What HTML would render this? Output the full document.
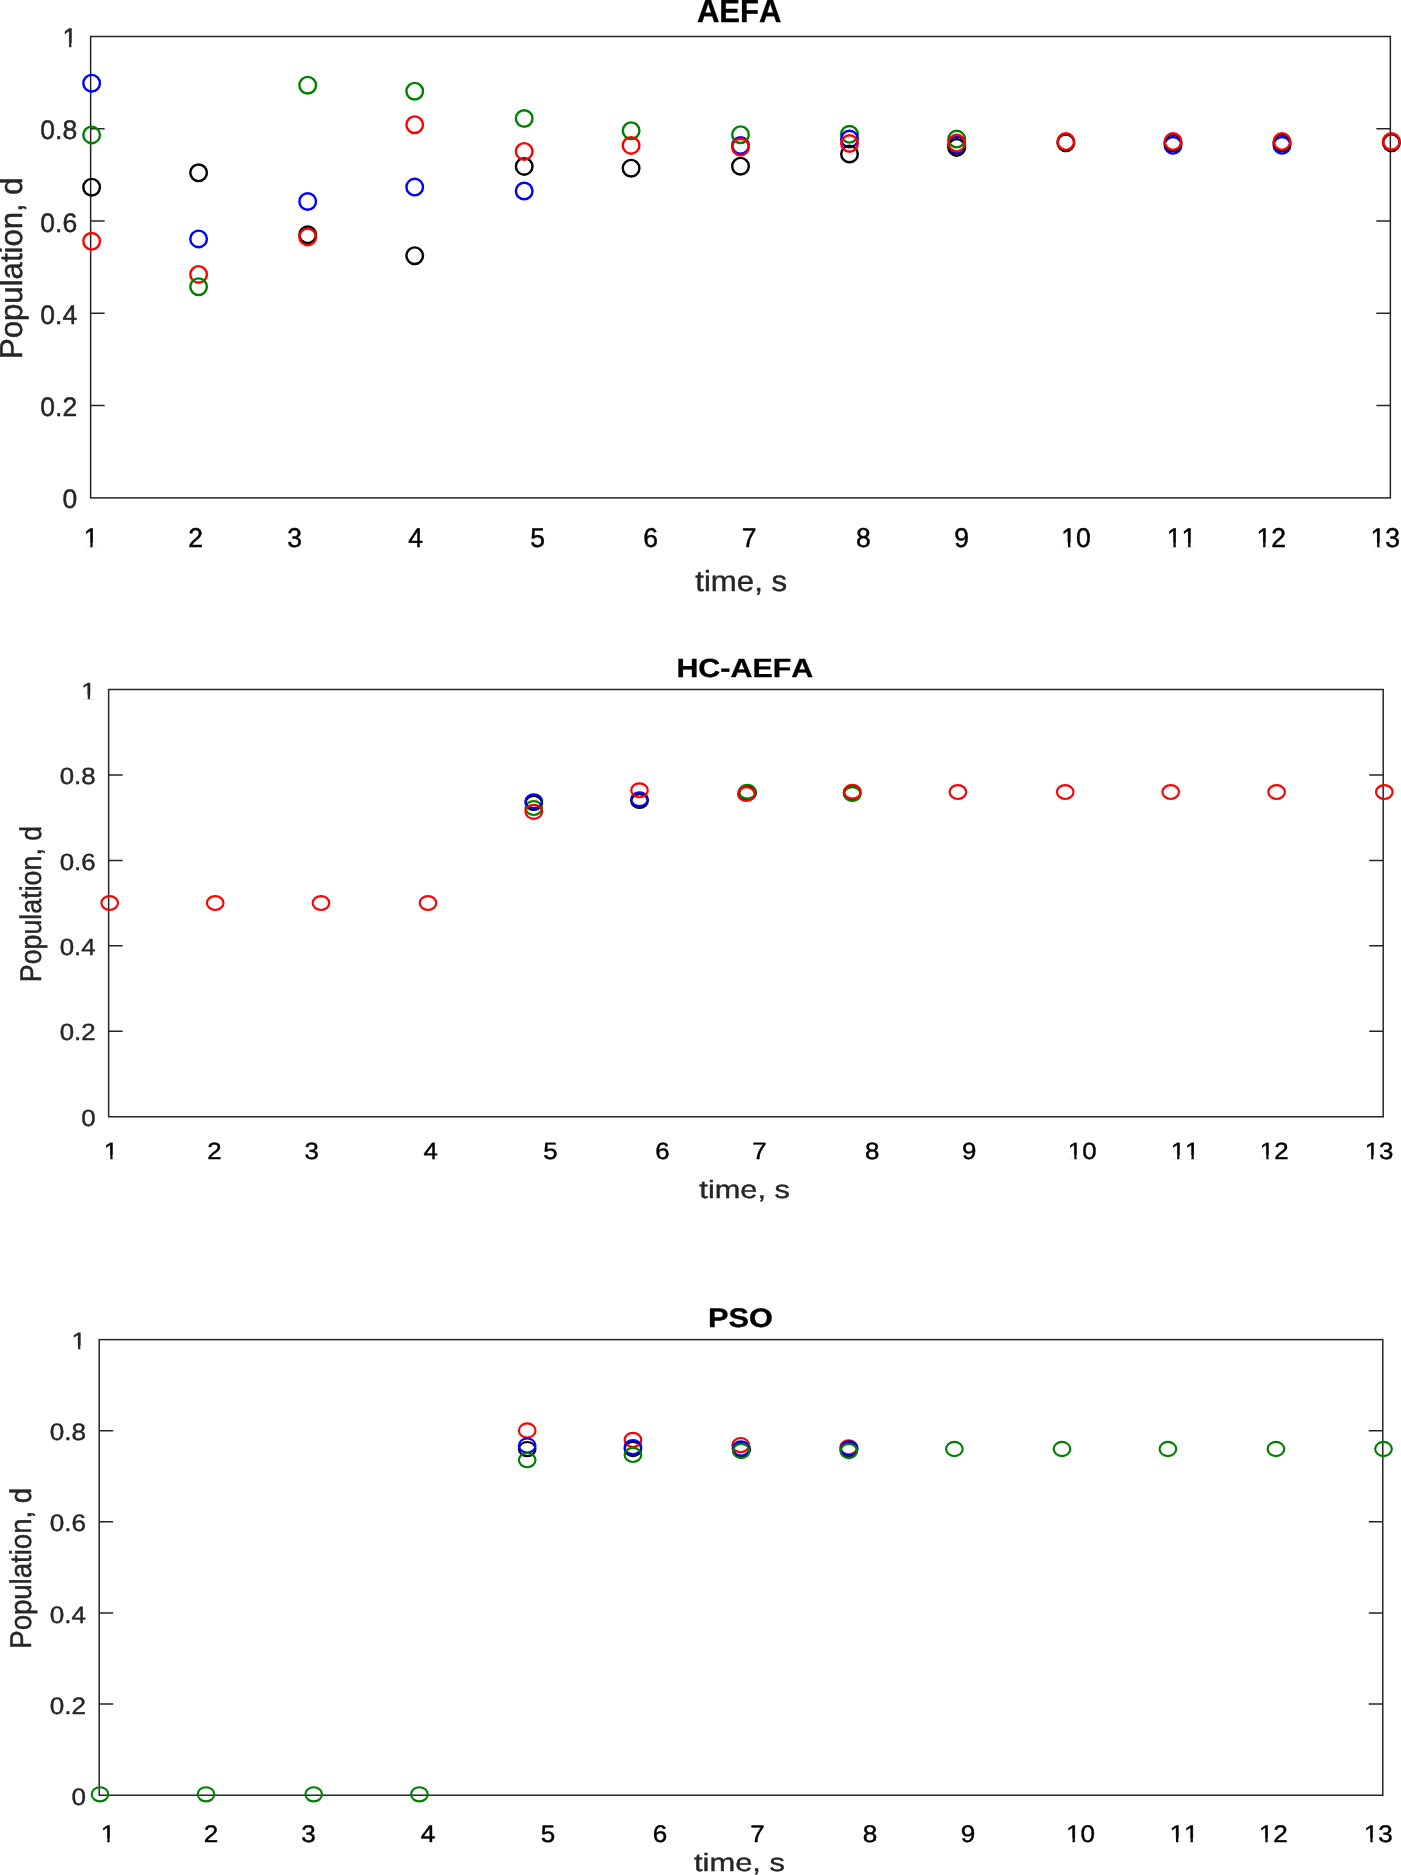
<!DOCTYPE html>
<html><head><meta charset="utf-8"><title>Population convergence</title>
<style>
html,body{margin:0;padding:0;background:#fff;}
body{width:1401px;height:1875px;overflow:hidden;}
svg{display:block;font-family:"Liberation Sans",sans-serif;will-change:transform;}
text{font-kerning:none;stroke-linejoin:round;text-rendering:geometricPrecision;}
</style></head><body>
<svg width="1401" height="1875" viewBox="0 0 1401 1875">
<rect width="1401" height="1875" fill="#fff"/>
<g id="p1">
<rect x="90.63" y="36.5" width="1299.7199999999998" height="461.4" fill="none" stroke="#262626" stroke-width="1.5"/>
<text transform="translate(77.14,47.00) scale(1.0000,1.0150)" font-size="26.5" text-anchor="end" fill="#262626" stroke="#262626" stroke-width="0.45" font-weight="normal">1</text><path transform="translate(77.14,47.00) scale(1.0000,1.0150)" d="M-13.68 -3.84H-8.07V1.06H-13.68ZM-5.73 -3.84H-0.30V1.06H-5.73Z" fill="#fff"/>
<path d="M90.63 128.78h14M1390.35 128.78h-14" stroke="#262626" stroke-width="1.5" fill="none"/>
<text transform="translate(77.14,139.28) scale(1.0000,1.0150)" font-size="26.5" text-anchor="end" fill="#262626" stroke="#262626" stroke-width="0.45" font-weight="normal">0.8</text>
<path d="M90.63 221.06h14M1390.35 221.06h-14" stroke="#262626" stroke-width="1.5" fill="none"/>
<text transform="translate(77.14,231.56) scale(1.0000,1.0150)" font-size="26.5" text-anchor="end" fill="#262626" stroke="#262626" stroke-width="0.45" font-weight="normal">0.6</text>
<path d="M90.63 313.34h14M1390.35 313.34h-14" stroke="#262626" stroke-width="1.5" fill="none"/>
<text transform="translate(77.14,323.84) scale(1.0000,1.0150)" font-size="26.5" text-anchor="end" fill="#262626" stroke="#262626" stroke-width="0.45" font-weight="normal">0.4</text>
<path d="M90.63 405.62h14M1390.35 405.62h-14" stroke="#262626" stroke-width="1.5" fill="none"/>
<text transform="translate(77.14,416.12) scale(1.0000,1.0150)" font-size="26.5" text-anchor="end" fill="#262626" stroke="#262626" stroke-width="0.45" font-weight="normal">0.2</text>
<text transform="translate(77.14,508.40) scale(1.0000,1.0150)" font-size="26.5" text-anchor="end" fill="#262626" stroke="#262626" stroke-width="0.45" font-weight="normal">0</text>
<text transform="translate(91.00,546.67) scale(1.0000,1.0220)" font-size="26.5" text-anchor="middle" fill="#000" stroke="#000" stroke-width="0.45" font-weight="normal">1</text><path transform="translate(91.00,546.67) scale(1.0000,1.0220)" d="M-6.31 -3.84H-0.70V1.06H-6.31ZM1.64 -3.84H7.07V1.06H1.64Z" fill="#fff"/>
<text transform="translate(195.50,546.67) scale(1.0000,1.0220)" font-size="26.5" text-anchor="middle" fill="#000" stroke="#000" stroke-width="0.45" font-weight="normal">2</text>
<text transform="translate(294.50,546.67) scale(1.0000,1.0220)" font-size="26.5" text-anchor="middle" fill="#000" stroke="#000" stroke-width="0.45" font-weight="normal">3</text>
<text transform="translate(415.60,546.67) scale(1.0000,1.0220)" font-size="26.5" text-anchor="middle" fill="#000" stroke="#000" stroke-width="0.45" font-weight="normal">4</text>
<text transform="translate(537.60,546.67) scale(1.0000,1.0220)" font-size="26.5" text-anchor="middle" fill="#000" stroke="#000" stroke-width="0.45" font-weight="normal">5</text>
<text transform="translate(650.60,546.67) scale(1.0000,1.0220)" font-size="26.5" text-anchor="middle" fill="#000" stroke="#000" stroke-width="0.45" font-weight="normal">6</text>
<text transform="translate(749.20,546.67) scale(1.0000,1.0220)" font-size="26.5" text-anchor="middle" fill="#000" stroke="#000" stroke-width="0.45" font-weight="normal">7</text>
<text transform="translate(863.30,546.67) scale(1.0000,1.0220)" font-size="26.5" text-anchor="middle" fill="#000" stroke="#000" stroke-width="0.45" font-weight="normal">8</text>
<text transform="translate(961.60,546.67) scale(1.0000,1.0220)" font-size="26.5" text-anchor="middle" fill="#000" stroke="#000" stroke-width="0.45" font-weight="normal">9</text>
<text transform="translate(1076.10,546.67) scale(1.0000,1.0220)" font-size="26.5" text-anchor="middle" fill="#000" stroke="#000" stroke-width="0.45" font-weight="normal">10</text><path transform="translate(1076.10,546.67) scale(1.0000,1.0220)" d="M-13.68 -3.84H-8.07V1.06H-13.68ZM-5.73 -3.84H-0.30V1.06H-5.73Z" fill="#fff"/>
<text transform="translate(1181.50,546.67) scale(1.0000,1.0220)" font-size="26.5" text-anchor="middle" fill="#000" stroke="#000" stroke-width="0.45" font-weight="normal">11</text><path transform="translate(1181.50,546.67) scale(1.0000,1.0220)" d="M-13.68 -3.84H-8.07V1.06H-13.68ZM-5.73 -3.84H-0.30V1.06H-5.73ZM1.06 -3.84H6.66V1.06H1.06ZM9.00 -3.84H14.44V1.06H9.00Z" fill="#fff"/>
<text transform="translate(1271.20,546.67) scale(1.0000,1.0220)" font-size="26.5" text-anchor="middle" fill="#000" stroke="#000" stroke-width="0.45" font-weight="normal">12</text><path transform="translate(1271.20,546.67) scale(1.0000,1.0220)" d="M-13.68 -3.84H-8.07V1.06H-13.68ZM-5.73 -3.84H-0.30V1.06H-5.73Z" fill="#fff"/>
<text transform="translate(1385.20,546.67) scale(1.0000,1.0220)" font-size="26.5" text-anchor="middle" fill="#000" stroke="#000" stroke-width="0.45" font-weight="normal">13</text><path transform="translate(1385.20,546.67) scale(1.0000,1.0220)" d="M-13.68 -3.84H-8.07V1.06H-13.68ZM-5.73 -3.84H-0.30V1.06H-5.73Z" fill="#fff"/>
<text transform="translate(739.20,21.72) scale(1.0000,1.0400)" font-size="31.09" text-anchor="middle" fill="#000" stroke="#000" stroke-width="0.35" font-weight="bold">AEFA</text>
<text transform="translate(741.15,590.80) scale(1.0000,0.9300)" font-size="31.2" text-anchor="middle" fill="#262626" stroke="#262626" stroke-width="0.45" font-weight="normal">time, s</text>
<text transform="translate(21.57,268.17) rotate(-90) scale(1.0000,1.0200)" font-size="31.13" text-anchor="middle" fill="#262626" stroke="#262626" stroke-width="0.45" font-weight="normal">Population, d</text>
<ellipse cx="91.63" cy="83.2" rx="8.3" ry="8.3" fill="none" stroke="#0000ff" stroke-width="2.4"/>
<ellipse cx="91.63" cy="134.9" rx="8.3" ry="8.3" fill="none" stroke="#008000" stroke-width="2.4"/>
<ellipse cx="91.63" cy="187.2" rx="8.3" ry="8.3" fill="none" stroke="#000000" stroke-width="2.4"/>
<ellipse cx="91.63" cy="241.3" rx="8.3" ry="8.3" fill="none" stroke="#ff0000" stroke-width="2.4"/>
<ellipse cx="198.6" cy="172.8" rx="8.3" ry="8.3" fill="none" stroke="#000000" stroke-width="2.4"/>
<ellipse cx="198.6" cy="238.9" rx="8.3" ry="8.3" fill="none" stroke="#0000ff" stroke-width="2.4"/>
<ellipse cx="198.6" cy="274.4" rx="8.3" ry="8.3" fill="none" stroke="#ff0000" stroke-width="2.4"/>
<ellipse cx="198.6" cy="286.7" rx="8.3" ry="8.3" fill="none" stroke="#008000" stroke-width="2.4"/>
<ellipse cx="307.7" cy="85.2" rx="8.3" ry="8.3" fill="none" stroke="#008000" stroke-width="2.4"/>
<ellipse cx="307.7" cy="201.5" rx="8.3" ry="8.3" fill="none" stroke="#0000ff" stroke-width="2.4"/>
<ellipse cx="307.7" cy="234.8" rx="8.3" ry="8.3" fill="none" stroke="#000000" stroke-width="2.4"/>
<ellipse cx="307.7" cy="236.9" rx="8.3" ry="8.3" fill="none" stroke="#ff0000" stroke-width="2.4"/>
<ellipse cx="414.7" cy="91.2" rx="8.3" ry="8.3" fill="none" stroke="#008000" stroke-width="2.4"/>
<ellipse cx="414.7" cy="124.7" rx="8.3" ry="8.3" fill="none" stroke="#ff0000" stroke-width="2.4"/>
<ellipse cx="414.7" cy="187.1" rx="8.3" ry="8.3" fill="none" stroke="#0000ff" stroke-width="2.4"/>
<ellipse cx="414.7" cy="255.7" rx="8.3" ry="8.3" fill="none" stroke="#000000" stroke-width="2.4"/>
<ellipse cx="524.2" cy="118.5" rx="8.3" ry="8.3" fill="none" stroke="#008000" stroke-width="2.4"/>
<ellipse cx="524.2" cy="191" rx="8.3" ry="8.3" fill="none" stroke="#0000ff" stroke-width="2.4"/>
<ellipse cx="524.2" cy="166.4" rx="8.3" ry="8.3" fill="none" stroke="#000000" stroke-width="2.4"/>
<ellipse cx="524.2" cy="151.4" rx="8.3" ry="8.3" fill="none" stroke="#ff0000" stroke-width="2.4"/>
<ellipse cx="631.1" cy="130.7" rx="8.3" ry="8.3" fill="none" stroke="#008000" stroke-width="2.4"/>
<ellipse cx="631.1" cy="168.2" rx="8.3" ry="8.3" fill="none" stroke="#000000" stroke-width="2.4"/>
<ellipse cx="631.1" cy="145.4" rx="8.3" ry="8.3" fill="none" stroke="#ff0000" stroke-width="2.4"/>
<ellipse cx="740.5" cy="145.4" rx="8.3" ry="8.3" fill="none" stroke="#0000ff" stroke-width="2.4"/>
<ellipse cx="740.5" cy="134.7" rx="8.3" ry="8.3" fill="none" stroke="#008000" stroke-width="2.4"/>
<ellipse cx="740.5" cy="166.2" rx="8.3" ry="8.3" fill="none" stroke="#000000" stroke-width="2.4"/>
<ellipse cx="740.5" cy="147.1" rx="8.3" ry="8.3" fill="none" stroke="#ff0000" stroke-width="2.4"/>
<ellipse cx="849.5" cy="134.3" rx="8.3" ry="8.3" fill="none" stroke="#008000" stroke-width="2.4"/>
<ellipse cx="849.5" cy="139" rx="8.3" ry="8.3" fill="none" stroke="#0000ff" stroke-width="2.4"/>
<ellipse cx="849.5" cy="154" rx="8.3" ry="8.3" fill="none" stroke="#000000" stroke-width="2.4"/>
<ellipse cx="849.5" cy="143.5" rx="8.3" ry="8.3" fill="none" stroke="#ff0000" stroke-width="2.4"/>
<ellipse cx="956.7" cy="145.0" rx="8.3" ry="8.3" fill="none" stroke="#0000ff" stroke-width="2.4"/>
<ellipse cx="956.7" cy="147.4" rx="8.3" ry="8.3" fill="none" stroke="#000000" stroke-width="2.4"/>
<ellipse cx="956.7" cy="139.1" rx="8.3" ry="8.3" fill="none" stroke="#008000" stroke-width="2.4"/>
<ellipse cx="956.7" cy="143.1" rx="8.3" ry="8.3" fill="none" stroke="#ff0000" stroke-width="2.4"/>
<ellipse cx="1065.85" cy="142.8" rx="8.3" ry="8.3" fill="none" stroke="#000000" stroke-width="2.4"/>
<ellipse cx="1065.85" cy="141.6" rx="8.3" ry="8.3" fill="none" stroke="#ff0000" stroke-width="2.4"/>
<ellipse cx="1173.0" cy="145.3" rx="8.3" ry="8.3" fill="none" stroke="#0000ff" stroke-width="2.4"/>
<ellipse cx="1173.0" cy="142.8" rx="8.3" ry="8.3" fill="none" stroke="#000000" stroke-width="2.4"/>
<ellipse cx="1173.0" cy="141.6" rx="8.3" ry="8.3" fill="none" stroke="#ff0000" stroke-width="2.4"/>
<ellipse cx="1282.0" cy="145.3" rx="8.3" ry="8.3" fill="none" stroke="#0000ff" stroke-width="2.4"/>
<ellipse cx="1282.0" cy="142.8" rx="8.3" ry="8.3" fill="none" stroke="#000000" stroke-width="2.4"/>
<ellipse cx="1282.0" cy="141.6" rx="8.3" ry="8.3" fill="none" stroke="#ff0000" stroke-width="2.4"/>
<ellipse cx="1391.4" cy="142.7" rx="8.3" ry="8.3" fill="none" stroke="#000000" stroke-width="2.4"/>
<ellipse cx="1391.4" cy="141.5" rx="8.3" ry="8.3" fill="none" stroke="#ff0000" stroke-width="2.4"/>
</g>
<g id="p2">
<rect x="108.63" y="689.5" width="1274.5700000000002" height="427.27" fill="none" stroke="#262626" stroke-width="1.5"/>
<text transform="translate(95.54,698.60) scale(1.0000,0.9070)" font-size="25.84" text-anchor="end" fill="#262626" stroke="#262626" stroke-width="0.45" font-weight="normal">1</text><path transform="translate(95.54,698.60) scale(1.0000,0.9070)" d="M-13.34 -3.75H-7.87V1.03H-13.34ZM-5.59 -3.75H-0.29V1.03H-5.59Z" fill="#fff"/>
<path d="M108.63 774.95h14M1383.2 774.95h-14" stroke="#262626" stroke-width="1.5" fill="none"/>
<text transform="translate(95.54,784.05) scale(1.0000,0.9070)" font-size="25.84" text-anchor="end" fill="#262626" stroke="#262626" stroke-width="0.45" font-weight="normal">0.8</text>
<path d="M108.63 860.41h14M1383.2 860.41h-14" stroke="#262626" stroke-width="1.5" fill="none"/>
<text transform="translate(95.54,869.51) scale(1.0000,0.9070)" font-size="25.84" text-anchor="end" fill="#262626" stroke="#262626" stroke-width="0.45" font-weight="normal">0.6</text>
<path d="M108.63 945.86h14M1383.2 945.86h-14" stroke="#262626" stroke-width="1.5" fill="none"/>
<text transform="translate(95.54,954.96) scale(1.0000,0.9070)" font-size="25.84" text-anchor="end" fill="#262626" stroke="#262626" stroke-width="0.45" font-weight="normal">0.4</text>
<path d="M108.63 1031.32h14M1383.2 1031.32h-14" stroke="#262626" stroke-width="1.5" fill="none"/>
<text transform="translate(95.54,1040.42) scale(1.0000,0.9070)" font-size="25.84" text-anchor="end" fill="#262626" stroke="#262626" stroke-width="0.45" font-weight="normal">0.2</text>
<text transform="translate(95.54,1125.87) scale(1.0000,0.9070)" font-size="25.84" text-anchor="end" fill="#262626" stroke="#262626" stroke-width="0.45" font-weight="normal">0</text>
<text transform="translate(111.00,1158.70) scale(1.0000,0.9090)" font-size="25.84" text-anchor="middle" fill="#000" stroke="#000" stroke-width="0.45" font-weight="normal">1</text><path transform="translate(111.00,1158.70) scale(1.0000,0.9090)" d="M-6.15 -3.75H-0.69V1.03H-6.15ZM1.59 -3.75H6.90V1.03H1.59Z" fill="#fff"/>
<text transform="translate(214.40,1158.70) scale(1.0000,0.9090)" font-size="25.84" text-anchor="middle" fill="#000" stroke="#000" stroke-width="0.45" font-weight="normal">2</text>
<text transform="translate(311.80,1158.70) scale(1.0000,0.9090)" font-size="25.84" text-anchor="middle" fill="#000" stroke="#000" stroke-width="0.45" font-weight="normal">3</text>
<text transform="translate(430.80,1158.70) scale(1.0000,0.9090)" font-size="25.84" text-anchor="middle" fill="#000" stroke="#000" stroke-width="0.45" font-weight="normal">4</text>
<text transform="translate(550.50,1158.70) scale(1.0000,0.9090)" font-size="25.84" text-anchor="middle" fill="#000" stroke="#000" stroke-width="0.45" font-weight="normal">5</text>
<text transform="translate(662.50,1158.70) scale(1.0000,0.9090)" font-size="25.84" text-anchor="middle" fill="#000" stroke="#000" stroke-width="0.45" font-weight="normal">6</text>
<text transform="translate(759.50,1158.70) scale(1.0000,0.9090)" font-size="25.84" text-anchor="middle" fill="#000" stroke="#000" stroke-width="0.45" font-weight="normal">7</text>
<text transform="translate(872.30,1158.70) scale(1.0000,0.9090)" font-size="25.84" text-anchor="middle" fill="#000" stroke="#000" stroke-width="0.45" font-weight="normal">8</text>
<text transform="translate(969.30,1158.70) scale(1.0000,0.9090)" font-size="25.84" text-anchor="middle" fill="#000" stroke="#000" stroke-width="0.45" font-weight="normal">9</text>
<text transform="translate(1082.20,1158.70) scale(1.0000,0.9090)" font-size="25.84" text-anchor="middle" fill="#000" stroke="#000" stroke-width="0.45" font-weight="normal">10</text><path transform="translate(1082.20,1158.70) scale(1.0000,0.9090)" d="M-13.34 -3.75H-7.87V1.03H-13.34ZM-5.59 -3.75H-0.29V1.03H-5.59Z" fill="#fff"/>
<text transform="translate(1185.00,1158.70) scale(1.0000,0.9090)" font-size="25.84" text-anchor="middle" fill="#000" stroke="#000" stroke-width="0.45" font-weight="normal">11</text><path transform="translate(1185.00,1158.70) scale(1.0000,0.9090)" d="M-13.34 -3.75H-7.87V1.03H-13.34ZM-5.59 -3.75H-0.29V1.03H-5.59ZM1.03 -3.75H6.50V1.03H1.03ZM8.78 -3.75H14.08V1.03H8.78Z" fill="#fff"/>
<text transform="translate(1274.20,1158.70) scale(1.0000,0.9090)" font-size="25.84" text-anchor="middle" fill="#000" stroke="#000" stroke-width="0.45" font-weight="normal">12</text><path transform="translate(1274.20,1158.70) scale(1.0000,0.9090)" d="M-13.34 -3.75H-7.87V1.03H-13.34ZM-5.59 -3.75H-0.29V1.03H-5.59Z" fill="#fff"/>
<text transform="translate(1379.00,1158.70) scale(1.0000,0.9090)" font-size="25.84" text-anchor="middle" fill="#000" stroke="#000" stroke-width="0.45" font-weight="normal">13</text><path transform="translate(1379.00,1158.70) scale(1.0000,0.9090)" d="M-13.34 -3.75H-7.87V1.03H-13.34ZM-5.59 -3.75H-0.29V1.03H-5.59Z" fill="#fff"/>
<text transform="translate(744.80,676.74) scale(1.0000,0.8650)" font-size="30.4" text-anchor="middle" fill="#000" stroke="#000" stroke-width="0.35" font-weight="bold">HC-AEFA</text>
<text transform="translate(744.65,1197.90) scale(1.0000,0.8130)" font-size="30.77" text-anchor="middle" fill="#262626" stroke="#262626" stroke-width="0.45" font-weight="normal">time, s</text>
<text transform="translate(40.98,904.04) rotate(-90) scale(0.8930,0.9950)" font-size="30" text-anchor="middle" fill="#262626" stroke="#262626" stroke-width="0.45" font-weight="normal">Population, d</text>
<ellipse cx="109.67" cy="903.0" rx="8.3" ry="6.95" fill="none" stroke="#ff0000" stroke-width="2.15"/>
<ellipse cx="215.2" cy="903.0" rx="8.3" ry="6.95" fill="none" stroke="#ff0000" stroke-width="2.15"/>
<ellipse cx="321" cy="903.0" rx="8.3" ry="6.95" fill="none" stroke="#ff0000" stroke-width="2.15"/>
<ellipse cx="428" cy="903.0" rx="8.3" ry="6.95" fill="none" stroke="#ff0000" stroke-width="2.15"/>
<ellipse cx="533.77" cy="802.97" rx="8.3" ry="6.95" fill="none" stroke="#000000" stroke-width="2.15"/>
<ellipse cx="533.77" cy="808.0" rx="8.3" ry="6.95" fill="none" stroke="#008000" stroke-width="2.15"/>
<ellipse cx="533.77" cy="801.17" rx="8.3" ry="6.95" fill="none" stroke="#0000ff" stroke-width="2.15"/>
<ellipse cx="533.77" cy="811.86" rx="8.3" ry="6.95" fill="none" stroke="#ff0000" stroke-width="2.15"/>
<ellipse cx="639.5" cy="801.0" rx="8.3" ry="6.95" fill="none" stroke="#000000" stroke-width="2.15"/>
<ellipse cx="639.5" cy="799.2" rx="8.3" ry="6.95" fill="none" stroke="#0000ff" stroke-width="2.15"/>
<ellipse cx="639.5" cy="790.3" rx="8.3" ry="6.95" fill="none" stroke="#ff0000" stroke-width="2.15"/>
<ellipse cx="747.6" cy="793.0" rx="8.3" ry="6.95" fill="none" stroke="#000000" stroke-width="2.15"/>
<ellipse cx="747.3" cy="791.7" rx="8.3" ry="6.95" fill="none" stroke="#008000" stroke-width="2.15"/>
<ellipse cx="746.3" cy="794.0" rx="8.3" ry="6.95" fill="none" stroke="#ff0000" stroke-width="2.15"/>
<ellipse cx="852.0" cy="793.0" rx="8.3" ry="6.95" fill="none" stroke="#000000" stroke-width="2.15"/>
<ellipse cx="852.4" cy="794.0" rx="8.3" ry="6.95" fill="none" stroke="#008000" stroke-width="2.15"/>
<ellipse cx="852.4" cy="791.7" rx="8.3" ry="6.95" fill="none" stroke="#ff0000" stroke-width="2.15"/>
<ellipse cx="957.88" cy="792.03" rx="8.3" ry="6.95" fill="none" stroke="#ff0000" stroke-width="2.15"/>
<ellipse cx="1065.2" cy="792.03" rx="8.3" ry="6.95" fill="none" stroke="#ff0000" stroke-width="2.15"/>
<ellipse cx="1170.7" cy="792.03" rx="8.3" ry="6.95" fill="none" stroke="#ff0000" stroke-width="2.15"/>
<ellipse cx="1276.6" cy="792.03" rx="8.3" ry="6.95" fill="none" stroke="#ff0000" stroke-width="2.15"/>
<ellipse cx="1384.3" cy="792.03" rx="8.3" ry="6.95" fill="none" stroke="#ff0000" stroke-width="2.15"/>
</g>
<g id="p3">
<rect x="99.2" y="1339.63" width="1283.57" height="455.5999999999999" fill="none" stroke="#262626" stroke-width="1.5"/>
<text transform="translate(85.98,1349.15) scale(1.0000,0.9100)" font-size="26.1" text-anchor="end" fill="#262626" stroke="#262626" stroke-width="0.45" font-weight="normal">1</text><path transform="translate(85.98,1349.15) scale(1.0000,0.9100)" d="M-13.47 -3.78H-7.95V1.04H-13.47ZM-5.65 -3.78H-0.29V1.04H-5.65Z" fill="#fff"/>
<path d="M99.2 1430.75h14M1382.77 1430.75h-14" stroke="#262626" stroke-width="1.5" fill="none"/>
<text transform="translate(85.98,1440.27) scale(1.0000,0.9100)" font-size="26.1" text-anchor="end" fill="#262626" stroke="#262626" stroke-width="0.45" font-weight="normal">0.8</text>
<path d="M99.2 1521.87h14M1382.77 1521.87h-14" stroke="#262626" stroke-width="1.5" fill="none"/>
<text transform="translate(85.98,1531.39) scale(1.0000,0.9100)" font-size="26.1" text-anchor="end" fill="#262626" stroke="#262626" stroke-width="0.45" font-weight="normal">0.6</text>
<path d="M99.2 1612.99h14M1382.77 1612.99h-14" stroke="#262626" stroke-width="1.5" fill="none"/>
<text transform="translate(85.98,1622.51) scale(1.0000,0.9100)" font-size="26.1" text-anchor="end" fill="#262626" stroke="#262626" stroke-width="0.45" font-weight="normal">0.4</text>
<path d="M99.2 1704.11h14M1382.77 1704.11h-14" stroke="#262626" stroke-width="1.5" fill="none"/>
<text transform="translate(85.98,1713.63) scale(1.0000,0.9100)" font-size="26.1" text-anchor="end" fill="#262626" stroke="#262626" stroke-width="0.45" font-weight="normal">0.2</text>
<text transform="translate(85.98,1804.75) scale(1.0000,0.9100)" font-size="26.1" text-anchor="end" fill="#262626" stroke="#262626" stroke-width="0.45" font-weight="normal">0</text>
<text transform="translate(108.00,1841.98) scale(1.0000,0.9230)" font-size="26.1" text-anchor="middle" fill="#000" stroke="#000" stroke-width="0.45" font-weight="normal">1</text><path transform="translate(108.00,1841.98) scale(1.0000,0.9230)" d="M-6.21 -3.78H-0.69V1.04H-6.21ZM1.61 -3.78H6.97V1.04H1.61Z" fill="#fff"/>
<text transform="translate(211.00,1841.98) scale(1.0000,0.9230)" font-size="26.1" text-anchor="middle" fill="#000" stroke="#000" stroke-width="0.45" font-weight="normal">2</text>
<text transform="translate(308.60,1841.98) scale(1.0000,0.9230)" font-size="26.1" text-anchor="middle" fill="#000" stroke="#000" stroke-width="0.45" font-weight="normal">3</text>
<text transform="translate(428.00,1841.98) scale(1.0000,0.9230)" font-size="26.1" text-anchor="middle" fill="#000" stroke="#000" stroke-width="0.45" font-weight="normal">4</text>
<text transform="translate(548.00,1841.98) scale(1.0000,0.9230)" font-size="26.1" text-anchor="middle" fill="#000" stroke="#000" stroke-width="0.45" font-weight="normal">5</text>
<text transform="translate(660.00,1841.98) scale(1.0000,0.9230)" font-size="26.1" text-anchor="middle" fill="#000" stroke="#000" stroke-width="0.45" font-weight="normal">6</text>
<text transform="translate(757.50,1841.98) scale(1.0000,0.9230)" font-size="26.1" text-anchor="middle" fill="#000" stroke="#000" stroke-width="0.45" font-weight="normal">7</text>
<text transform="translate(870.00,1841.98) scale(1.0000,0.9230)" font-size="26.1" text-anchor="middle" fill="#000" stroke="#000" stroke-width="0.45" font-weight="normal">8</text>
<text transform="translate(967.90,1841.98) scale(1.0000,0.9230)" font-size="26.1" text-anchor="middle" fill="#000" stroke="#000" stroke-width="0.45" font-weight="normal">9</text>
<text transform="translate(1080.50,1841.98) scale(1.0000,0.9230)" font-size="26.1" text-anchor="middle" fill="#000" stroke="#000" stroke-width="0.45" font-weight="normal">10</text><path transform="translate(1080.50,1841.98) scale(1.0000,0.9230)" d="M-13.47 -3.78H-7.95V1.04H-13.47ZM-5.65 -3.78H-0.29V1.04H-5.65Z" fill="#fff"/>
<text transform="translate(1184.00,1841.98) scale(1.0000,0.9230)" font-size="26.1" text-anchor="middle" fill="#000" stroke="#000" stroke-width="0.45" font-weight="normal">11</text><path transform="translate(1184.00,1841.98) scale(1.0000,0.9230)" d="M-13.47 -3.78H-7.95V1.04H-13.47ZM-5.65 -3.78H-0.29V1.04H-5.65ZM1.04 -3.78H6.56V1.04H1.04ZM8.87 -3.78H14.22V1.04H8.87Z" fill="#fff"/>
<text transform="translate(1273.30,1841.98) scale(1.0000,0.9230)" font-size="26.1" text-anchor="middle" fill="#000" stroke="#000" stroke-width="0.45" font-weight="normal">12</text><path transform="translate(1273.30,1841.98) scale(1.0000,0.9230)" d="M-13.47 -3.78H-7.95V1.04H-13.47ZM-5.65 -3.78H-0.29V1.04H-5.65Z" fill="#fff"/>
<text transform="translate(1378.30,1841.98) scale(1.0000,0.9230)" font-size="26.1" text-anchor="middle" fill="#000" stroke="#000" stroke-width="0.45" font-weight="normal">13</text><path transform="translate(1378.30,1841.98) scale(1.0000,0.9230)" d="M-13.47 -3.78H-7.95V1.04H-13.47ZM-5.65 -3.78H-0.29V1.04H-5.65Z" fill="#fff"/>
<text transform="translate(740.45,1326.60) scale(1.0000,0.8750)" font-size="30.7" text-anchor="middle" fill="#000" stroke="#000" stroke-width="0.35" font-weight="bold">PSO</text>
<text transform="translate(739.45,1870.50) scale(1.0000,0.8100)" font-size="30.9" text-anchor="middle" fill="#262626" stroke="#262626" stroke-width="0.45" font-weight="normal">time, s</text>
<text transform="translate(31.18,1568.30) rotate(-90) scale(0.9187,1.0000)" font-size="30" text-anchor="middle" fill="#262626" stroke="#262626" stroke-width="0.45" font-weight="normal">Population, d</text>
<ellipse cx="100" cy="1794.3" rx="8.3" ry="7.1" fill="none" stroke="#008000" stroke-width="2.15"/>
<ellipse cx="206" cy="1794.3" rx="8.3" ry="7.1" fill="none" stroke="#008000" stroke-width="2.15"/>
<ellipse cx="313.7" cy="1794.3" rx="8.3" ry="7.1" fill="none" stroke="#008000" stroke-width="2.15"/>
<ellipse cx="419.4" cy="1794.3" rx="8.3" ry="7.1" fill="none" stroke="#008000" stroke-width="2.15"/>
<ellipse cx="527.2" cy="1449.05" rx="8.3" ry="7.1" fill="none" stroke="#000000" stroke-width="2.15"/>
<ellipse cx="527.2" cy="1430.5" rx="8.3" ry="7.1" fill="none" stroke="#ff0000" stroke-width="2.15"/>
<ellipse cx="527.2" cy="1445.55" rx="8.3" ry="7.1" fill="none" stroke="#0000ff" stroke-width="2.15"/>
<ellipse cx="527.2" cy="1460.1" rx="8.3" ry="7.1" fill="none" stroke="#008000" stroke-width="2.15"/>
<ellipse cx="632.95" cy="1449.0" rx="8.3" ry="7.1" fill="none" stroke="#000000" stroke-width="2.15"/>
<ellipse cx="632.95" cy="1439.9" rx="8.3" ry="7.1" fill="none" stroke="#ff0000" stroke-width="2.15"/>
<ellipse cx="632.95" cy="1447.15" rx="8.3" ry="7.1" fill="none" stroke="#0000ff" stroke-width="2.15"/>
<ellipse cx="632.95" cy="1454.9" rx="8.3" ry="7.1" fill="none" stroke="#008000" stroke-width="2.15"/>
<ellipse cx="741.8" cy="1449.3" rx="8.3" ry="7.1" fill="none" stroke="#000000" stroke-width="2.15"/>
<ellipse cx="740.6999999999999" cy="1445.1" rx="8.3" ry="7.1" fill="none" stroke="#ff0000" stroke-width="2.15"/>
<ellipse cx="740.9" cy="1448.5" rx="8.3" ry="7.1" fill="none" stroke="#0000ff" stroke-width="2.15"/>
<ellipse cx="741.1999999999999" cy="1451" rx="8.3" ry="7.1" fill="none" stroke="#008000" stroke-width="2.15"/>
<ellipse cx="848.8" cy="1449.5" rx="8.3" ry="7.1" fill="none" stroke="#000000" stroke-width="2.15"/>
<ellipse cx="848.5999999999999" cy="1447.3" rx="8.3" ry="7.1" fill="none" stroke="#ff0000" stroke-width="2.15"/>
<ellipse cx="849.3" cy="1448.3" rx="8.3" ry="7.1" fill="none" stroke="#0000ff" stroke-width="2.15"/>
<ellipse cx="848.8" cy="1451" rx="8.3" ry="7.1" fill="none" stroke="#008000" stroke-width="2.15"/>
<ellipse cx="954.4" cy="1449" rx="8.3" ry="7.1" fill="none" stroke="#008000" stroke-width="2.15"/>
<ellipse cx="1062" cy="1449" rx="8.3" ry="7.1" fill="none" stroke="#008000" stroke-width="2.15"/>
<ellipse cx="1167.9" cy="1449" rx="8.3" ry="7.1" fill="none" stroke="#008000" stroke-width="2.15"/>
<ellipse cx="1275.9" cy="1449" rx="8.3" ry="7.1" fill="none" stroke="#008000" stroke-width="2.15"/>
<ellipse cx="1383.5" cy="1449" rx="8.3" ry="7.1" fill="none" stroke="#008000" stroke-width="2.15"/>
</g>
</svg>
</body></html>
